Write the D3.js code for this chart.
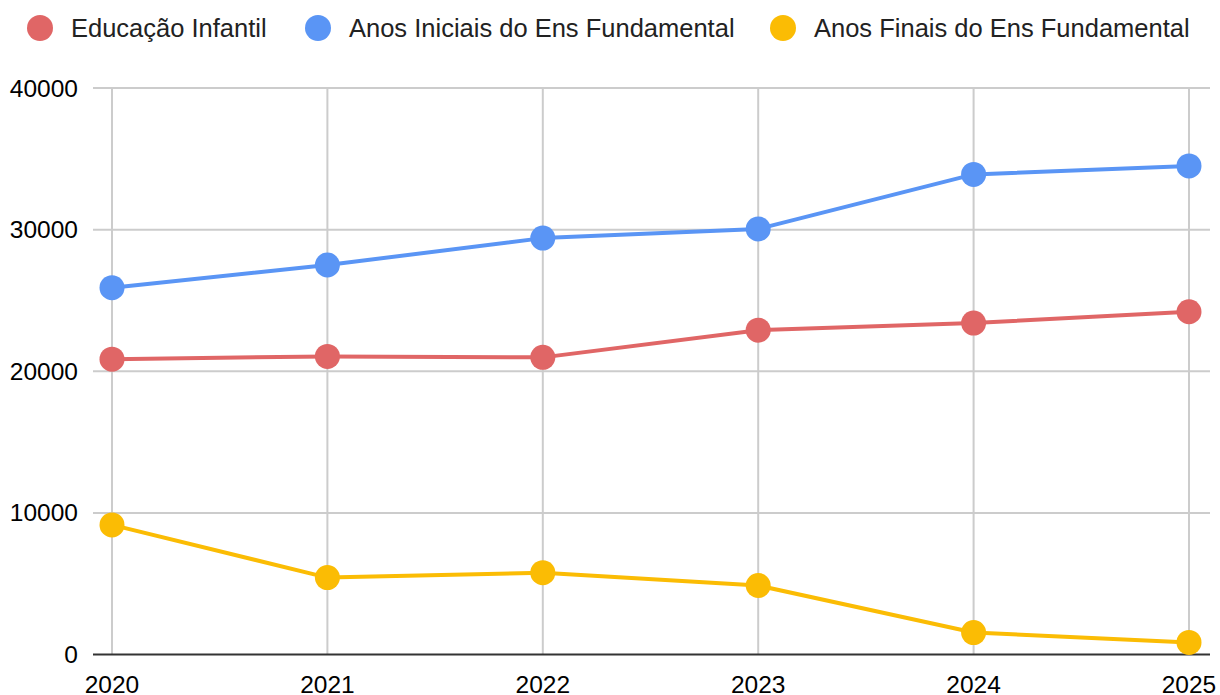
<!DOCTYPE html>
<html>
<head>
<meta charset="utf-8">
<script src="https://cdn.jsdelivr.net/npm/d3@7"></script>
<style>
	body { margin: 0; background: #fff; }
	svg { display: block; font-family: "Liberation Sans", Arial, sans-serif; }
</style>
</head>
<body>
<div id="chart"></div>
<script>
var years = ["2020", "2021", "2022", "2023", "2024", "2025"];
var seriesNames = ["Educação Infantil", "Anos Iniciais do Ens Fundamental", "Anos Finais do Ens Fundamental"];
var educacaoInfantil = [20850, 21050, 20980, 22900, 23400, 24200];
var anosIniciais = [25900, 27500, 29400, 30050, 33900, 34500];
var anosFinais = [9150, 5430, 5780, 4870, 1550, 850];
var yTicks = [0, 10000, 20000, 30000, 40000];
var colors = ["#e06666", "#5a95f5", "#fbbc04"];

var w = 1220;
var h = 695;
var svg = d3.select("#chart").append("svg").attr("width", w).attr("height", h);

var gridLeft = 93, gridRight = 1210;

var x = d3.scalePoint().domain(years).range([112, 1189]);
var y = d3.scaleLinear().domain([0, 40000]).range([654.5, 88]);

// horizontal grid
svg.append("g")
	.selectAll("line")
	.data(yTicks.filter(function(d){ return d > 0; }))
	.enter()
	.append("line")
	.attr("x1", gridLeft)
	.attr("x2", gridRight)
	.attr("y1", function(d){ return y(d); })
	.attr("y2", function(d){ return y(d); })
	.attr("stroke", "#cccccc")
	.attr("stroke-width", 2);

// vertical grid
svg.append("g")
	.selectAll("line")
	.data(years)
	.enter()
	.append("line")
	.attr("x1", function(d){ return x(d); })
	.attr("x2", function(d){ return x(d); })
	.attr("y1", y(40000))
	.attr("y2", y(0))
	.attr("stroke", "#cccccc")
	.attr("stroke-width", 2);

// zero line
svg.append("line")
	.attr("x1", gridLeft)
	.attr("x2", gridRight)
	.attr("y1", y(0))
	.attr("y2", y(0))
	.attr("stroke", "#333333")
	.attr("stroke-width", 2);

// y labels
svg.append("g")
	.selectAll("text")
	.data(yTicks)
	.enter()
	.append("text")
	.attr("x", 78)
	.attr("y", function(d){ return y(d); })
	.attr("dy", "0.35em")
	.attr("text-anchor", "end")
	.attr("font-size", 24.5)
	.attr("fill", "#000")
	.text(function(d){ return d; });

// x labels
svg.append("g")
	.selectAll("text")
	.data(years)
	.enter()
	.append("text")
	.attr("x", function(d){ return x(d); })
	.attr("y", 693)
	.attr("text-anchor", "middle")
	.attr("font-size", 24.5)
	.attr("fill", "#000")
	.text(function(d){ return d; });

var allSeries = [educacaoInfantil, anosIniciais, anosFinais];

var line = d3.line()
	.x(function(d, i) { return x(years[i]); })
	.y(function(d) { return y(d); });

allSeries.forEach(function(values, s){
	svg.append("path")
		.datum(values)
		.attr("fill", "none")
		.attr("stroke", colors[s])
		.attr("stroke-width", 4)
		.attr("stroke-linejoin", "round")
		.attr("d", line);

	svg.append("g")
		.selectAll("circle")
		.data(values)
		.enter()
		.append("circle")
		.attr("cx", function(d, i){ return x(years[i]); })
		.attr("cy", function(d){ return y(d); })
		.attr("r", 12.5)
		.attr("fill", colors[s]);
});

// legend
var legendX = [40, 318, 783];
var legend = svg.append("g")
	.selectAll("g")
	.data(seriesNames)
	.enter()
	.append("g")
	.attr("transform", function(d, i){ return "translate(" + legendX[i] + ",28)"; });

legend.append("circle")
	.attr("r", 13)
	.attr("fill", function(d, i){ return colors[i]; });

legend.append("text")
	.attr("x", 31)
	.attr("dy", "0.35em")
	.attr("font-size", 25.5)
	.attr("fill", "#222")
	.text(function(d){ return d; });
</script>
</body>
</html>
